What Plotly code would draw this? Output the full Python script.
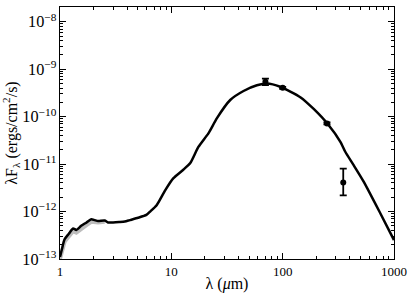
import plotly.graph_objects as go

# Model SED curve (wavelength in micron, lambda*F_lambda in erg/cm^2/s)
model_wl = [1.0, 1.04, 1.10, 1.20, 1.31, 1.40, 1.55, 1.73, 1.91, 2.05, 2.2, 2.52, 2.70, 3.0,
            3.4, 3.82, 4.24, 5.03, 5.97, 6.45, 7.41, 8.8, 10.4, 12.8, 14.8, 17.5, 21.6, 25.7,
            33.8, 44.5, 58.7, 72.2, 95, 144, 190, 255, 330, 365, 434, 534, 755, 1000]
model_flux = [1.1e-13, 1.6e-13, 2.6e-13, 3.4e-13, 4.4e-13, 4.1e-13, 5.0e-13, 5.9e-13, 6.9e-13,
              6.6e-13, 6.3e-13, 6.45e-13, 5.9e-13, 5.9e-13, 6.0e-13, 6.15e-13, 6.6e-13, 7.4e-13,
              8.5e-13, 1.0e-12, 1.38e-12, 2.8e-12, 5.0e-12, 7.6e-12, 1.05e-11, 2.3e-11, 4.5e-11,
              9.3e-11, 2.24e-10, 3.47e-10, 4.57e-10, 5.0e-10, 4.27e-10, 2.57e-10, 1.45e-10,
              6.9e-11, 2.95e-11, 1.82e-11, 9.5e-12, 4.27e-12, 9.1e-13, 2.5e-13]

# Observed near-IR spectrum (grey)
spec_wl = [1.0, 1.04, 1.10, 1.20, 1.31, 1.40, 1.55, 1.73, 1.91, 2.05, 2.2, 2.52]
spec_flux = [1.0e-13, 1.4e-13, 2.3e-13, 3.0e-13, 3.85e-13, 3.6e-13, 4.4e-13, 5.2e-13, 6.1e-13,
             6.0e-13, 5.9e-13, 6.1e-13]

# Photometry
phot_wl = [70, 100, 250, 350]
phot_flux = [5.4e-10, 4.05e-10, 7.2e-11, 4.1e-12]
phot_err_hi = [0.9e-10, 0.2e-10, 0.35e-11, 3.9e-12]
phot_err_lo = [0.8e-10, 0.2e-10, 0.35e-11, 1.9e-12]

x_ticks = [1, 10, 100, 1000]
x_ticklabels = ["1", "10", "100", "1000"]

fig = go.Figure()
fig.add_trace(go.Scatter(x=spec_wl, y=spec_flux, mode="lines",
                         line=dict(color="#bdbdbd", width=4), showlegend=False))
fig.add_trace(go.Scatter(x=model_wl, y=model_flux, mode="lines",
                         line=dict(color="black", width=2.5, shape="spline", smoothing=0.6),
                         showlegend=False))
fig.add_trace(go.Scatter(x=phot_wl, y=phot_flux, mode="markers",
                         marker=dict(color="black", size=6),
                         error_y=dict(type="data", symmetric=False, array=phot_err_hi,
                                      arrayminus=phot_err_lo, color="black", thickness=1.8,
                                      width=3.5),
                         showlegend=False))

font = dict(family="Liberation Serif, DejaVu Serif, serif", size=13, color="black")
title_font = dict(family="Liberation Serif, DejaVu Serif, serif", size=16, color="black")
axis_common = dict(type="log", showline=True, linecolor="black", linewidth=1,
                   mirror="allticks", ticks="inside", ticklen=6, tickcolor="black",
                   showgrid=False, zeroline=False, tickfont=font, automargin=False)

fig.update_xaxes(**axis_common, range=[0, 3.0], tickmode="array", tickvals=x_ticks,
                 ticktext=x_ticklabels,
                 minor=dict(ticks="inside", ticklen=3, tickcolor="black", dtick="D1", showgrid=False),
                 title=dict(text="λ (<i>μ</i>m)", font=title_font, standoff=0))
fig.update_yaxes(**axis_common, range=[-13, -7.69], dtick=1, exponentformat="power",
                 showexponent="all",
                 minor=dict(ticks="inside", ticklen=3, tickcolor="black", dtick="D1", showgrid=False),
                 title=dict(text="λF<sub>λ</sub> (ergs/cm<sup>2</sup>/s)", font=title_font, standoff=4))

fig.update_layout(width=415, height=302, margin=dict(l=60, r=21, t=7, b=43),
                  plot_bgcolor="white", paper_bgcolor="white", font=font)

fig.write_html("out.html", config={"displayModeBar": False},
               post_script="document.body.style.margin='0';")
